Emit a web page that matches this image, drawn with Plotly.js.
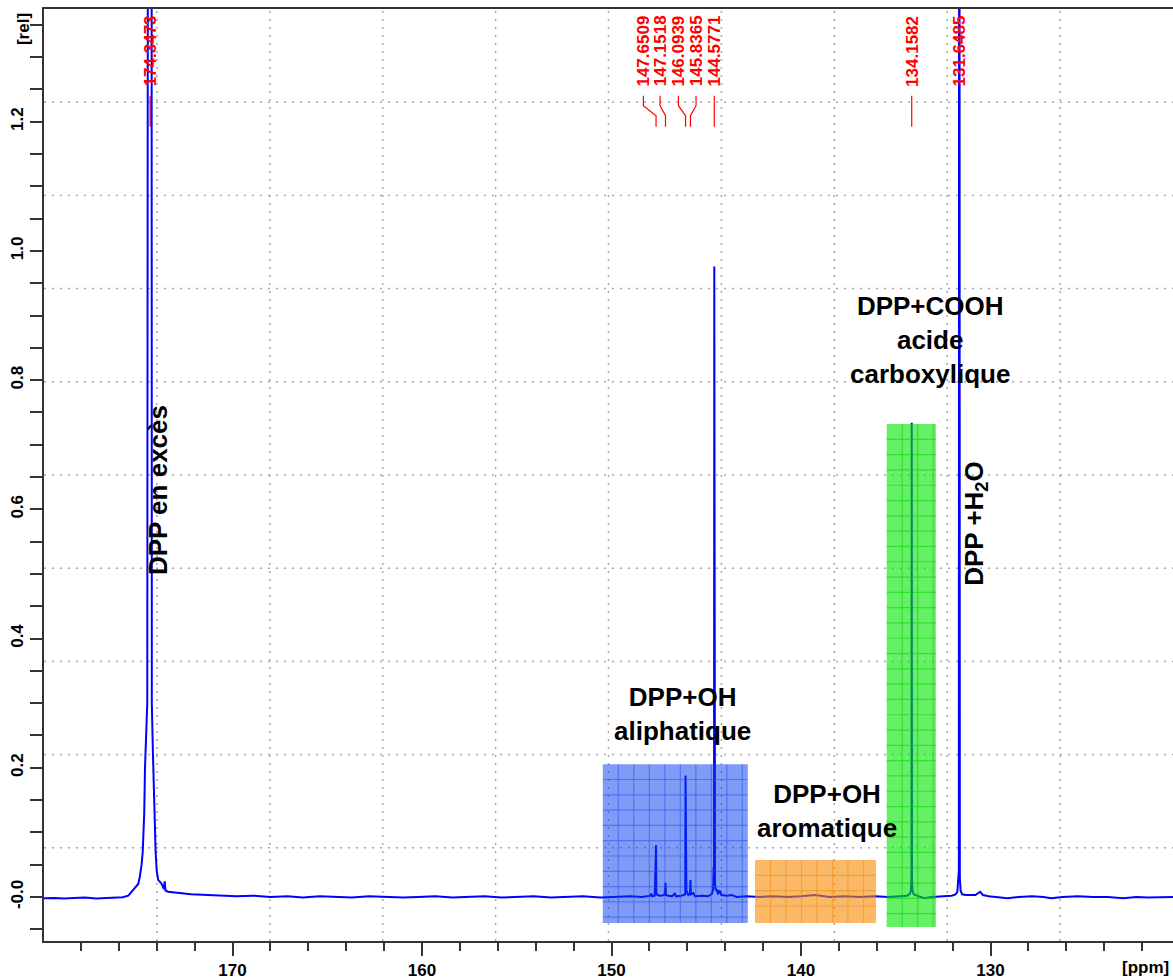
<!DOCTYPE html>
<html><head><meta charset="utf-8">
<script src="https://cdn.plot.ly/plotly-3.0.1.min.js"></script>
<style>body{margin:0;background:#fff}#chart{width:1173px;height:979px}</style>
</head><body><div id="chart"></div>
<script>
// ---- spectrum data (ppm, relative intensity) ----
const ppmExcess = [179.95,179.4,178.9,178.3,177.8,177.2,176.7,176.2,175.8,175.5,175.3,175.1,174.98,174.9,174.8,174.74,174.7,174.66,174.62,174.58,174.56,174.5,174.49,174.48,174.46,174.3473,174.28,174.27,174.26,174.2,174.18,174.14,174.1,174.06,174.0,173.92,173.76,173.62,173.58,173.54,173.4,173.2,172.8,172.2,171.5,170.6,169.8,168.9,168.0];
const intExcess = [-0.002,-0.0015,-0.0025,-0.002,-0.001,-0.0025,-0.0015,-0.001,-0.0005,0.002,0.009,0.015,0.02,0.03,0.05,0.07,0.1,0.13,0.2,0.25,0.26,0.3,0.72,1.5,4,6,4,1.5,0.3,0.22,0.2,0.13,0.1,0.07,0.04,0.026,0.021,0.012,0.024,0.01,0.008,0.007,0.006,0.004,0.003,0.002,0.001,0.002,0.0];

const ppmBase = [167.1,166.3,165.4,164.5,163.7,162.8,161.9,161.0,160.2,159.3,158.4,157.6,156.7,155.8,154.9,154.1,153.2,152.3,151.5,150.6,149.8,149.0,148.4];
const intBase = [0.001,-0.001,0.001,0.0,-0.001,0.001,0.0,-0.001,0.0,0.001,-0.001,0.0,0.001,-0.001,0.0,0.001,-0.001,0.0,0.001,-0.001,0.0,0.001,0.0];

const ppmAliph = [147.95,147.9,147.85,147.72,147.68,147.665,147.6509,147.635,147.58,147.4,147.2,147.1518,147.13,147.0,146.8,146.66,146.6,146.3,146.11,146.0939,146.08,146.07,146.05,145.95,145.86,145.8365,145.81,145.68,145.6,145.2,144.9,144.7,144.64,144.61,144.59,144.5771,144.565,144.555,144.54,144.5,144.45,144.38,144.3,144.2,143.9,143.65,143.4,142.9];
const intAliph = [0.002,0.005,0.001,0.002,0.044,0.03,0.08,0.005,0.003,0.002,0.003,0.022,0.003,0.002,0.001,0.006,0.001,0.002,0.004,0.188,0.05,0.108,0.01,0.003,0.005,0.026,0.004,0.006,0.001,0.002,0.001,0.005,0.012,0.045,0.05,0.976,0.1,0.519,0.02,0.01,0.012,0.004,0.01,0.003,0.002,0.003,0.0,0.001];

const ppmArom = [142.2,141.5,140.7,140.0,139.26,138.5,137.7,136.9,136.1,135.4,134.8,134.4,134.25,134.2,134.17,134.1582,134.145,134.12,134.05,133.8,133.5,133.1,132.6];
const intArom = [0.0,0.001,0.0,0.001,0.003,0.0,0.001,0.0,0.001,0.0,0.001,0.002,0.005,0.01,0.03,0.734,0.03,0.01,0.004,0.001,-0.002,0.0,0.001];

const ppmWater = [132.05,131.85,131.75,131.7,131.67,131.66,131.6485,131.635,131.62,131.58,131.5,131.3,131.0,130.8,130.55,130.4,130.1,129.6,129.1,128.5,127.8,127.2,126.8,126.2,125.4,124.6,123.8,123.0,122.3,121.7,121.0,120.37];
const intWater = [0.002,0.004,0.008,0.029,0.04,1.5,5,1.5,0.03,0.01,0.004,0.003,0.003,0.003,0.008,0.003,0.001,0.0,-0.002,0.0,0.001,0.0,-0.002,0.0,0.001,0.0,0.0,-0.002,0.0,-0.001,0.0,0.0];

// peak picking labels
const peakPpm = [174.3473,147.6509,147.1518,146.0939,145.8365,144.5771,134.1582,131.6485];
const peakText = ['174.3473','147.6509','147.1518','146.0939','145.8365','144.5771','134.1582','131.6485'];

// axis tick labels
const xTickVals = [170,160,150,140,130];
const yTickVals = [0,0.2,0.4,0.6,0.8,1.0,1.2];
const yTickText = ['-0.0','0.2','0.4','0.6','0.8','1.0','1.2'];

// ---- layout configuration ----
const X_RANGE = [179.95, 120.37];
const Y_RANGE = [-0.0682, 1.3745];
const PLOT_W = 1129, PLOT_H = 932;
const PX_PER_PPM = PLOT_W / (X_RANGE[0] - X_RANGE[1]);
const PX_PER_UNIT = PLOT_H / (Y_RANGE[1] - Y_RANGE[0]);
const FONT = 'Liberation Sans, Arial, Helvetica, sans-serif';

// label x positions (spread apart for the crowded group)
const labelPpm = [174.3473,148.32,147.44,146.47,145.54,144.5771,134.1582,131.6485];
const LEAD = [1.2403, 1.2248, 1.2093, 1.1923];

const boxes = [
  {x0:150.46, x1:142.81, y0:-0.0403, y1:0.2055, fill:'rgba(0,55,235,0.5)', grid:'rgba(30,70,240,0.45)'},
  {x0:142.43, x1:136.04, y0:-0.0403, y1:0.057, fill:'rgba(247,138,0,0.6)', grid:'rgba(240,130,0,0.45)'},
  {x0:135.48, x1:132.88, y0:-0.0465, y1:0.732, fill:'rgba(0,230,0,0.6)', grid:'rgba(0,210,0,0.5)'}
];

const ppm = [].concat(ppmExcess, ppmBase, ppmAliph, ppmArom, ppmWater);
const intensity = [].concat(intExcess, intBase, intAliph, intArom, intWater);

const shapes = [];
// dotted 10x10 grid
for (let i = 1; i < 10; i++) {
  shapes.push({type:'line', xref:'paper', yref:'paper', x0:i/10, x1:i/10, y0:0, y1:1, line:{color:'#a8a8a8', width:1.5, dash:'2px,6px'}, layer:'below'});
  shapes.push({type:'line', xref:'paper', yref:'paper', y0:i/10, y1:i/10, x0:0, x1:1, line:{color:'#a8a8a8', width:1.5, dash:'2px,6px'}, layer:'below'});
}
// peak label leader lines
peakPpm.forEach((p, i) => {
  const lx = labelPpm[i];
  shapes.push({type:'path', xref:'x', yref:'y', layer:'below',
    path:`M${lx},${LEAD[0]} L${lx},${LEAD[1]} L${p},${LEAD[2]} L${p},${LEAD[3]}`,
    line:{color:'#ff0000', width:1.2}});
});
// highlighted boxes with inner grid
boxes.forEach(b => {
  shapes.push({type:'rect', xref:'x', yref:'y', x0:b.x0, x1:b.x1, y0:b.y0, y1:b.y1,
    fillcolor:b.fill, line:{width:0}, layer:'above'});
  const wPx = (b.x0 - b.x1) * PX_PER_PPM, hPx = (b.y1 - b.y0) * PX_PER_UNIT;
  for (let px = 15.5; px < wPx - 2; px += 15.5) {
    const x = b.x0 - px / PX_PER_PPM;
    shapes.push({type:'line', xref:'x', yref:'y', x0:x, x1:x, y0:b.y0, y1:b.y1, line:{color:b.grid, width:1.2}, layer:'above'});
  }
  for (let py = 15.3; py < hPx - 2; py += 15.3) {
    const y = b.y1 - py / PX_PER_UNIT;
    shapes.push({type:'line', xref:'x', yref:'y', x0:b.x0, x1:b.x1, y0:y, y1:y, line:{color:b.grid, width:1.2}, layer:'above'});
  }
});

const annotations = [];
peakText.forEach((t, i) => {
  annotations.push({text:t, x:labelPpm[i], xref:'x', y:0.9145, yref:'paper', yanchor:'bottom', xanchor:'center',
    textangle:-90, showarrow:false, font:{family:FONT, size:17, color:'#ff0000', weight:'bold'}});
});
const black = () => ({family:FONT, size:26, color:'#000000', weight:'bold'});
annotations.push({text:'DPP en excès', x:173.96, y:0.629, xref:'x', yref:'y', xanchor:'center', yanchor:'middle', textangle:-90, showarrow:false, font:black()});
annotations.push({text:'DPP+OH<br>aliphatique', x:146.23, y:0.283, xref:'x', yref:'y', xanchor:'center', yanchor:'middle', showarrow:false, font:black()});
annotations.push({text:'DPP+OH<br>aromatique', x:138.63, y:0.133, xref:'x', yref:'y', xanchor:'center', yanchor:'middle', showarrow:false, font:black()});
annotations.push({text:'DPP+COOH<br>acide<br>carboxylique', x:133.19, y:0.862, xref:'x', yref:'y', xanchor:'center', yanchor:'middle', showarrow:false, font:black()});
annotations.push({text:'DPP +H<sub>2</sub>O', x:130.77, y:0.579, xref:'x', yref:'y', xanchor:'center', yanchor:'middle', textangle:-90, showarrow:false, font:black()});
annotations.push({text:'[rel]', x:-0.0186, y:0.9785, xref:'paper', yref:'paper', xanchor:'center', yanchor:'middle', textangle:-90, showarrow:false,
  font:{family:FONT, size:17, color:'#000000', weight:'bold'}});
annotations.push({text:'[ppm]', x:0.9757, y:-0.0285, xref:'paper', yref:'paper', xanchor:'center', yanchor:'middle', showarrow:false,
  font:{family:FONT, size:17, color:'#000000', weight:'bold'}});

const trace = {x:ppm, y:intensity, type:'scatter', mode:'lines', line:{color:'#0000ff', width:2}, hoverinfo:'skip'};

function axisCommon() {
  return {showline:true, linecolor:'#333', linewidth:2, mirror:true, showgrid:false, zeroline:false,
    ticks:'outside', tickcolor:'#333', tickwidth:2, tickfont:{family:FONT, size:17, color:'#000000', weight:'bold'}};
}

const layout = {
  width:1173, height:979,
  margin:{l:44, r:0, t:9, b:38},
  paper_bgcolor:'#fff', plot_bgcolor:'#fff',
  showlegend:false,
  xaxis:Object.assign(axisCommon(), {range:X_RANGE, tickmode:'array', tickvals:xTickVals, ticklen:13,
    minor:{tickmode:'linear', tick0:0, dtick:2, ticklen:8, tickwidth:2, tickcolor:'#333', ticks:'outside', showgrid:false}}),
  yaxis:Object.assign(axisCommon(), {range:Y_RANGE, tickmode:'array', tickvals:yTickVals, ticktext:yTickText, ticklen:12, tickangle:-90,
    minor:{tickmode:'linear', tick0:0, dtick:0.05, ticklen:12, tickwidth:2, tickcolor:'#333', ticks:'outside', showgrid:false}}),
  shapes:shapes,
  annotations:annotations
};

Plotly.newPlot('chart', [trace], layout, {displayModeBar:false, staticPlot:true});
</script>
</body></html>
